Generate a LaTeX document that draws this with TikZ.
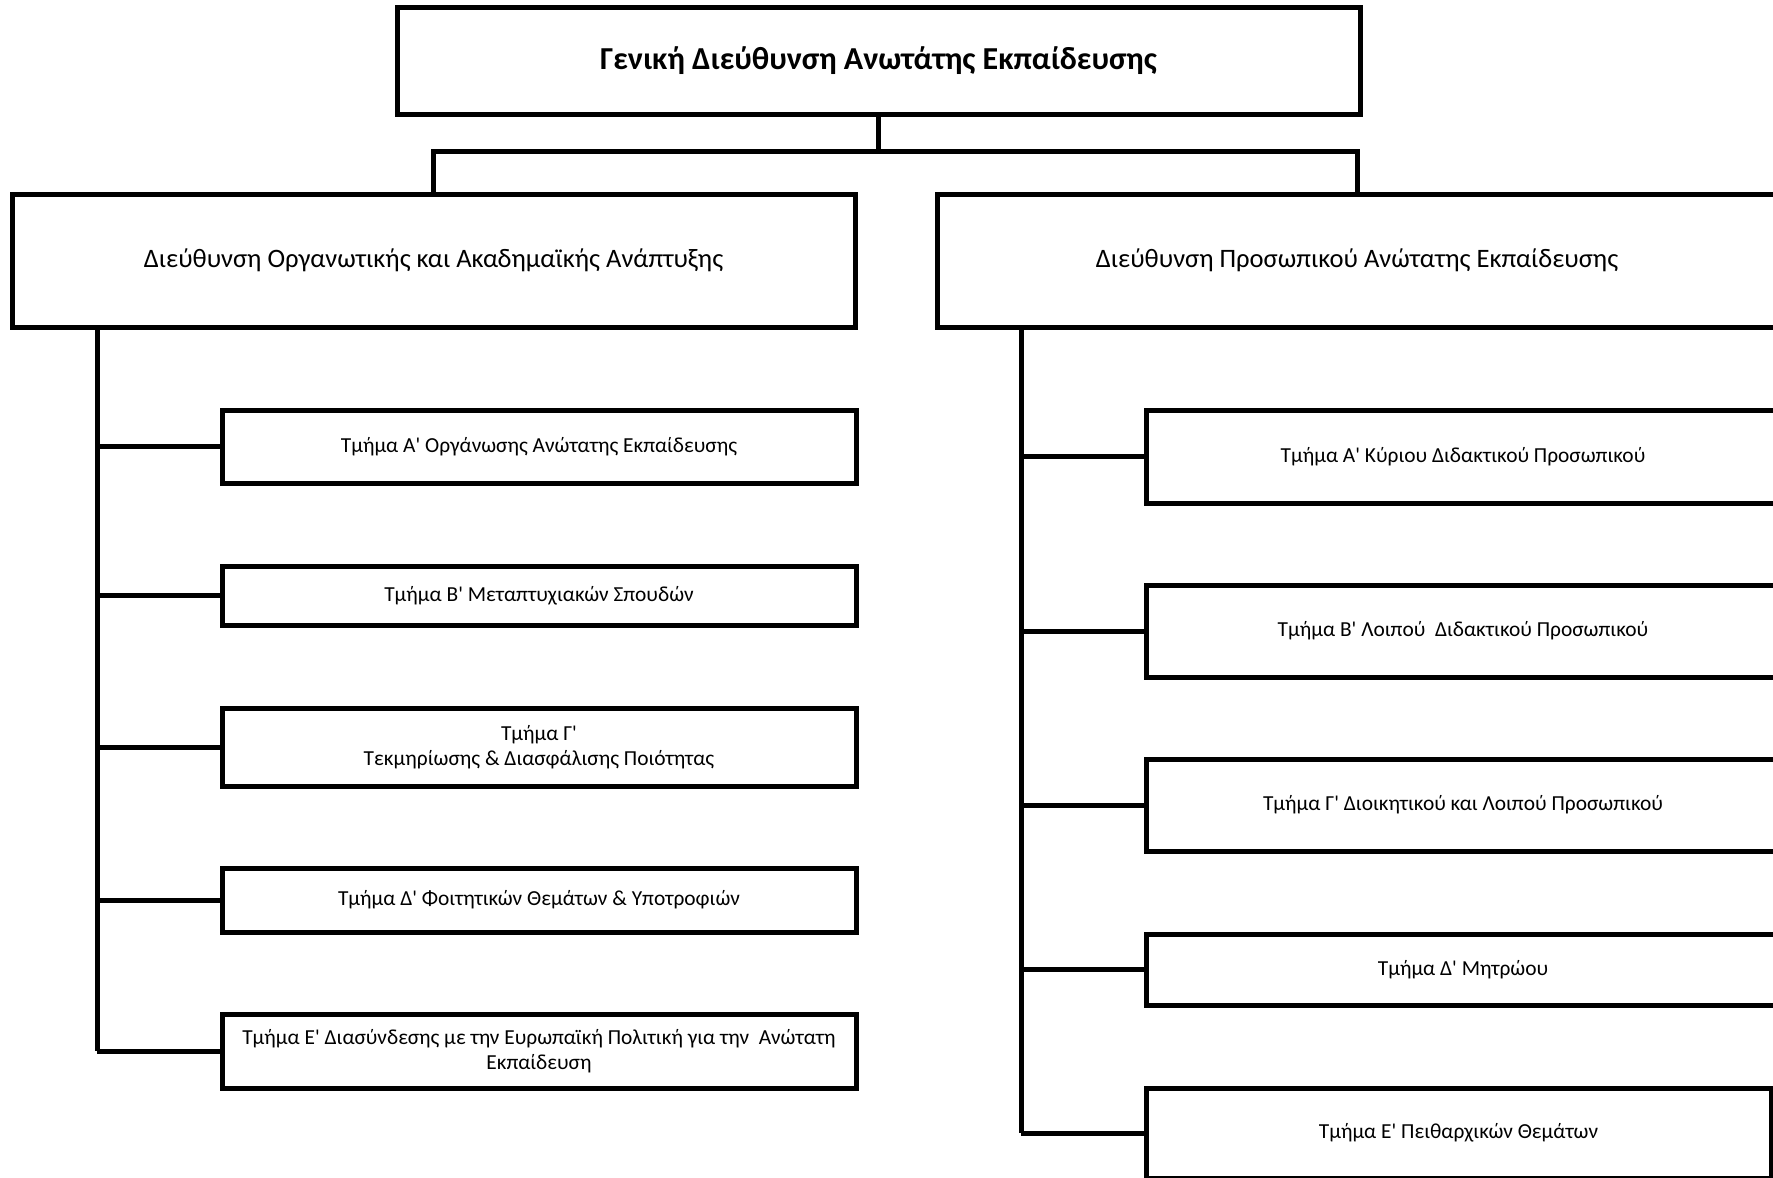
\documentclass[tikz,border=0pt]{standalone}
\usepackage{fontspec}
\setmainfont{Carlito}[Ligatures=TeXOff]
\begin{document}
\begin{tikzpicture}[x=1pt,y=-1pt,
  box/.style={draw=black, line width=5pt, rectangle, inner sep=0pt, line join=miter, align=center, fill=white},
  topbox/.style={box, font=\fontsize{32}{38}\selectfont\bfseries},
  dirbox/.style={box, font=\fontsize{26.6}{32}\selectfont},
  subbox/.style={box, font=\fontsize{21.4}{24.8}\selectfont},
  link/.style={draw=black, line width=5pt, line join=miter}]
\useasboundingbox (0,0) rectangle (1773,1178);
\fill[white] (0,0) rectangle (1773,1178);

% top
\node[topbox, minimum width=963pt, minimum height=107pt] (top) at (878.5,60.5) {Γενική Διεύθυνση Ανωτάτης Εκπαίδευσης};

% directorates
\node[dirbox, minimum width=843pt, minimum height=133pt] (ld) at (433.5,260.5) {Διεύθυνση Οργανωτικής και Ακαδημαϊκής Ανάπτυξης};
\node[dirbox, minimum width=840pt, minimum height=133pt] (rd) at (1357,260.5) {Διεύθυνση Προσωπικού Ανώτατης Εκπαίδευσης};

% left departments
\node[subbox, minimum width=634pt, minimum height=73pt] (lA) at (539,446.5) {Τμήμα Α' Οργάνωσης Ανώτατης Εκπαίδευσης};
\node[subbox, minimum width=634pt, minimum height=59pt] (lB) at (539,595.5) {Τμήμα Β' Μεταπτυχιακών Σπουδών};
\node[subbox, minimum width=634pt, minimum height=78pt] (lC) at (539,747) {Τμήμα Γ'\\Τεκμηρίωσης \& Διασφάλισης Ποιότητας};
\node[subbox, minimum width=634pt, minimum height=64pt] (lD) at (539,900) {Τμήμα Δ' Φοιτητικών Θεμάτων \& Υποτροφιών};
\node[subbox, minimum width=634pt, minimum height=74pt] (lE) at (539,1051) {Τμήμα Ε' Διασύνδεσης με την Ευρωπαϊκή Πολιτική για την\ \ Ανώτατη\\Εκπαίδευση};

% right departments
\node[subbox, minimum width=634pt, minimum height=93pt] (rA) at (1463,456.5) {Τμήμα Α' Κύριου Διδακτικού Προσωπικού};
\node[subbox, minimum width=634pt, minimum height=92pt] (rB) at (1463,631) {Τμήμα Β' Λοιπού\ \ Διδακτικού Προσωπικού};
\node[subbox, minimum width=634pt, minimum height=92pt] (rC) at (1463,805) {Τμήμα Γ' Διοικητικού και Λοιπού Προσωπικού};
\node[subbox, minimum width=634pt, minimum height=71pt] (rD) at (1463,969.5) {Τμήμα Δ' Μητρώου};
\node[subbox, minimum width=625pt, minimum height=90pt] (rE) at (1458.5,1133) {Τμήμα Ε' Πειθαρχικών Θεμάτων};

% connectors
\coordinate (bus) at (0,151);
\coordinate (ls) at (97,0);
\coordinate (rs) at (1021,0);
\draw[link] (top.south) -- (top.south |- bus);
\draw[link] (ld.north) |- (top.south |- bus) -| (rd.north);

\draw[link] (ld.south -| ls) -- (lE.west -| ls);
\foreach \n in {lA,lB,lC,lD,lE} \draw[link] (\n.west -| ls) -- (\n.west);

\draw[link] (rd.south -| rs) -- (rE.west -| rs);
\foreach \n in {rA,rB,rC,rD,rE} \draw[link] (\n.west -| rs) -- (\n.west);
\end{tikzpicture}
\end{document}
